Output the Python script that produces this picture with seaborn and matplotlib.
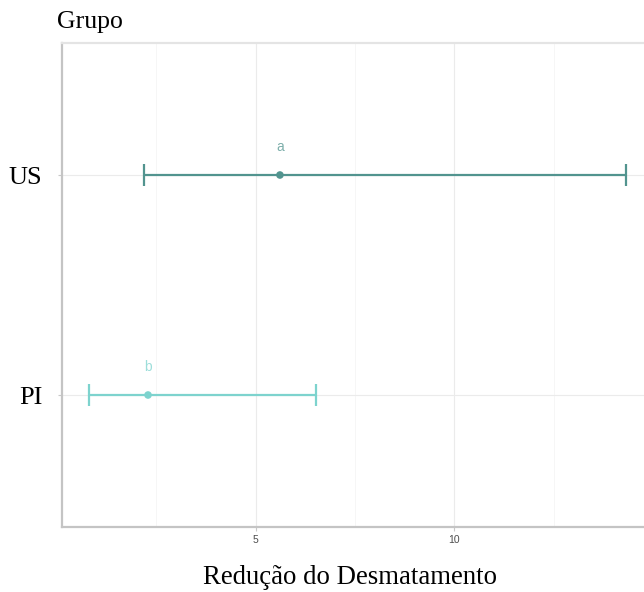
import matplotlib
matplotlib.use("Agg")
import matplotlib.pyplot as plt
from matplotlib.ticker import MultipleLocator
import seaborn as sns
import pandas as pd

# Estimated reduction of deforestation by group, with confidence bounds
groups = ["PI", "US"]
means = [2.29, 5.61]
lower = [0.80, 2.19]
upper = [6.53, 14.31]
letters = ["b", "a"]
colors = ["#7dd3ce", "#52948f"]
x_ticks = [5, 10]

df = pd.DataFrame({"grupo": groups, "media": means, "inf": lower,
                   "sup": upper, "letra": letters})
df["pos"] = range(1, len(df) + 1)

sns.set_theme(style="white")
plt.rcParams["font.family"] = ["Liberation Sans", "DejaVu Sans"]

fig = plt.figure(figsize=(6.44, 5.92), dpi=100)
ax = fig.add_axes([62 / 644, 65 / 592, (652.6 - 62) / 644, (527 - 43) / 592])

sns.scatterplot(data=df, x="media", y="pos", hue="grupo", palette=colors,
                s=30, edgecolor="none", legend=False, ax=ax, zorder=4)
for row, c in zip(df.itertuples(), colors):
    ax.errorbar(row.media, row.pos,
                xerr=[[row.media - row.inf], [row.sup - row.media]],
                fmt="none", ecolor=c, elinewidth=1.6, capsize=8,
                capthick=1.6, zorder=3)
    ax.annotate(row.letra, (row.media, row.pos), xytext=(0, 20),
                textcoords="offset points", ha="center", va="center",
                color=c, alpha=0.75, fontsize=10)

ax.set_xlim(0.125, 14.99)
ax.set_ylim(0.4, 2.6)
ax.set_yticks(df["pos"])
ax.set_yticklabels(df["grupo"], family=["Liberation Serif"], fontsize=19,
                   color="black")
ax.xaxis.set_major_locator(plt.FixedLocator(x_ticks))
ax.xaxis.set_minor_locator(MultipleLocator(2.5))
ax.tick_params(axis="x", which="major", labelsize=7.5, colors="#c8c8c8",
               labelcolor="#4d4d4d", length=3, width=0.8, pad=3, bottom=True)
ax.tick_params(axis="x", which="minor", length=0)
ax.tick_params(axis="y", colors="#c8c8c8", labelcolor="black",
               length=3, width=0.8, pad=11, left=True)
ax.set_xlabel("")
ax.set_ylabel("")

ax.grid(True, which="major", color="#ebebeb", linewidth=0.8)
ax.grid(True, which="minor", axis="x", color="#f5f5f5", linewidth=0.6)
ax.set_axisbelow(True)

for side in ["left", "bottom"]:
    ax.spines[side].set_color("#c4c4c4")
    ax.spines[side].set_linewidth(1.6)
ax.spines["top"].set_color("#e4e4e4")
ax.spines["top"].set_linewidth(1.6)
ax.spines["right"].set_visible(False)

fig.text(57 / 644, 1 - 28 / 592, "Grupo", family=["Liberation Serif"],
         fontsize=18.5, ha="left", va="baseline", color="black")
fig.text(350 / 644, 1 - 584 / 592, "Redução do Desmatamento",
         family=["Liberation Serif"], fontsize=19.3, ha="center",
         va="baseline", color="black")

fig.savefig("out.png", dpi=100)
